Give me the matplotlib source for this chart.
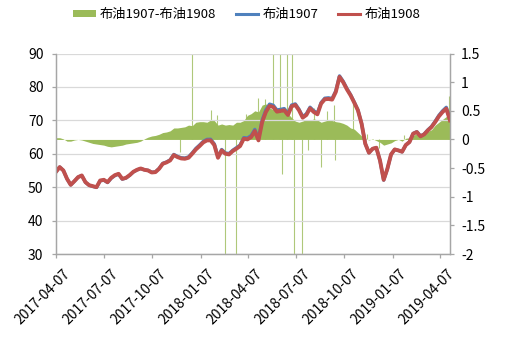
import matplotlib
matplotlib.use("Agg")
import matplotlib.pyplot as plt
import matplotlib.dates as mdates
import matplotlib.transforms as mtransforms
from matplotlib.patches import Patch
from matplotlib.lines import Line2D
import numpy as np
import pandas as pd

plt.rcParams['font.family'] = ['Noto Sans CJK SC', 'DejaVu Sans']

# -- weekly closes (Fridays) of the Brent 1908 contract
dates = pd.date_range('2017-04-07', periods=108, freq='7D')
brent_1908 = [54.6, 56.0, 55.0, 52.5, 50.7, 51.8, 53.0, 53.5, 51.5, 50.6,
              50.3, 50.0, 52.0, 52.2, 51.5, 52.8, 53.6, 54.0, 52.5, 52.8,
              53.6, 54.6, 55.2, 55.6, 55.2, 55.0, 54.4, 54.5, 55.5, 57.0,
              57.4, 58.0, 59.6, 59.0, 58.6, 58.5, 58.8, 60.0, 61.3, 62.3,
              63.4, 64.0, 64.0, 62.6, 58.8, 61.0, 60.0, 59.8, 60.8, 61.5,
              62.3, 64.5, 64.3, 65.0, 66.8, 64.0, 69.5, 72.5, 74.3, 74.0,
              72.6, 72.8, 73.0, 71.6, 74.2, 74.6, 73.0, 70.8, 71.6, 73.6,
              72.5, 71.8, 75.0, 76.3, 76.4, 76.2, 78.5, 83.0, 81.4, 79.3,
              77.5, 75.3, 73.0, 69.0, 63.0, 60.3, 61.5, 61.8, 58.0, 52.2,
              55.5, 59.8, 61.3, 61.0, 60.6, 62.6, 63.5, 66.0, 66.5, 65.2,
              65.8, 67.0, 68.0, 69.5, 71.2, 72.5, 73.5, 70.0]

# -- 1907 minus 1908 spread
spread = [0.03, 0.03, 0.01, -0.03, -0.03, -0.01, 0.0, -0.01, -0.03, -0.05,
          -0.07, -0.08, -0.09, -0.1, -0.12, -0.13, -0.12, -0.11, -0.1, -0.08,
          -0.07, -0.06, -0.05, -0.03, 0.01, 0.04, 0.06, 0.07, 0.09, 0.12,
          0.13, 0.15, 0.2, 0.2, 0.21, 0.22, 0.25, 0.24, 0.3, 0.31,
          0.31, 0.3, 0.34, 0.33, 0.25, 0.27, 0.25, 0.26, 0.25, 0.3,
          0.3, 0.33, 0.42, 0.45, 0.5, 0.48, 0.6, 0.62, 0.55, 0.52,
          0.5, 0.48, 0.52, 0.45, 0.38, 0.32, 0.3, 0.32, 0.35, 0.33,
          0.36, 0.34, 0.3, 0.32, 0.34, 0.33, 0.31, 0.3, 0.28, 0.25,
          0.2, 0.18, 0.12, 0.06, 0.01, -0.01, 0.01, -0.02, -0.05, -0.1,
          -0.08, -0.06, -0.02, 0.0, -0.03, 0.02, 0.03, 0.07, 0.1, 0.1,
          0.12, 0.14, 0.17, 0.25, 0.3, 0.35, 0.4, 0.55]

# -- single-day jumps in the spread
spike_dates = pd.to_datetime(['2017-11-29', '2017-12-22', '2018-01-26', '2018-02-08',
                              '2018-02-23', '2018-03-16', '2018-04-03', '2018-04-26',
                              '2018-05-09', '2018-05-25', '2018-06-06', '2018-06-11',
                              '2018-06-21', '2018-06-29', '2018-07-04', '2018-07-19',
                              '2018-07-31', '2018-08-10', '2018-08-23', '2018-09-05',
                              '2018-09-17', '2018-09-20', '2018-10-24', '2018-11-20',
                              '2018-12-12', '2019-01-29', '2019-04-24'])
spike_vals = [-0.22, 1.9, 0.51, 0.42, -2.4, -2.4, 0.45, 0.72, 0.7, 1.9, 1.9, -0.6,
              1.9, 1.9, -2.4, -2.4, -0.18, 0.55, -0.48, 0.5, 0.6, -0.36, 0.63,
              0.1, -0.15, 0.08, 0.75]

brent_1907 = np.array(brent_1908) + np.array(spread)

tick_dates = pd.to_datetime(['2017-04-07', '2017-07-07', '2017-10-07', '2018-01-07',
                             '2018-04-07', '2018-07-07', '2018-10-07', '2019-01-07',
                             '2019-04-07'])

green = '#9BBB59'
blue = '#4F81BD'
red = '#C0504D'
axis_gray = '#A6A6A6'

fig = plt.figure(figsize=(5.09, 3.38), dpi=100)
ax = fig.add_axes([0.110, 0.2485, 0.774, 0.5932])
ax2 = ax.twinx()
ax.set_zorder(ax2.get_zorder() + 1)
ax.patch.set_visible(False)

# -- spread area on the right axis
ax2.fill_between(dates, 0, spread, color=green, lw=0)
ax2.vlines(spike_dates, 0, spike_vals, color=green, lw=0.8, alpha=0.8)
ax2.set_ylim(-2, 1.5)
ax2.set_yticks(np.arange(-2, 1.51, 0.5))
ax2.set_yticklabels(['-2', '-1.5', '-1', '-0.5', '0', '0.5', '1', '1.5'])

# -- price lines on the left axis
ax.plot(dates, brent_1907, color=blue, lw=2.4, solid_joinstyle='round')
ax.plot(dates, brent_1908, color=red, lw=2.8, solid_joinstyle='round')
ax.set_ylim(30, 90)
ax.set_yticks(range(30, 91, 10))
ax.grid(axis='y', color='#D9D9D9', lw=0.9)
ax.set_axisbelow(True)

ax.set_xlim(dates[0], dates[-1])
ax.set_xticks(tick_dates)
ax.xaxis.set_major_formatter(mdates.DateFormatter('%Y-%m-%d'))

for a in (ax, ax2):
    a.spines['top'].set_visible(False)
    for s in ('left', 'right', 'bottom'):
        a.spines[s].set_color(axis_gray)
        a.spines[s].set_linewidth(0.9)
    a.tick_params(colors=axis_gray, labelcolor='black', labelsize=10, length=3, width=0.9)

ax.tick_params(axis='y', pad=6)
ax2.tick_params(axis='y', pad=5)
offset = mtransforms.ScaledTranslation(5 / 72, -3 / 72, fig.dpi_scale_trans)
for lab in ax.get_xticklabels():
    lab.set_rotation(45)
    lab.set_ha('right')
    lab.set_rotation_mode('anchor')
    lab.set_transform(lab.get_transform() + offset)

handles = [Patch(color=green, lw=0),
           Line2D([], [], color=blue, lw=2.2),
           Line2D([], [], color=red, lw=2.2)]
fig.legend(handles, ['布油1907-布油1908', '布油1907', '布油1908'],
           loc='center', bbox_to_anchor=(0.485, 0.956), ncol=3, frameon=False,
           fontsize=9.5, handlelength=1.7, handleheight=0.5, handletextpad=0.3,
           columnspacing=1.5)

fig.savefig('out.png', dpi=100)
